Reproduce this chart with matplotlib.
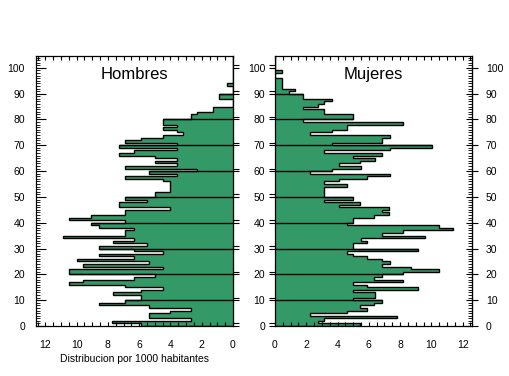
import matplotlib
matplotlib.use('Agg')
import matplotlib.pyplot as plt
import numpy as np

plt.rcParams['font.family'] = ['Liberation Sans', 'DejaVu Sans']

# tasa por 1000 habitantes, edad 0..104
hombres = [5.9, 7.75, 2.7, 5.4, 5.4, 4.0, 2.7, 5.4, 8.6, 6.9,
           5.9, 5.9, 7.7, 5.9, 4.5, 6.9, 10.5, 9.6, 6.3, 5.0,
           10.5, 10.5, 4.5, 9.6, 5.4, 10.0, 6.3, 8.6, 4.5, 6.3,
           8.6, 5.5, 7.7, 6.3, 10.9, 6.9, 6.9, 6.3, 8.6, 9.1,
           6.9, 10.5, 9.1, 6.9, 6.9, 4.0, 7.3, 7.3, 5.5, 6.9,
           5.0, 5.0, 4.0, 4.0, 4.0, 4.0, 4.5, 6.9, 3.6, 5.4,
           2.3, 6.9, 3.6, 5.0, 3.6, 5.0, 7.3, 6.3, 3.6, 7.3,
           3.6, 6.9, 5.9, 4.5, 3.2, 3.6, 4.5, 3.6, 4.5, 4.5,
           2.7, 2.7, 2.3, 1.3, 1.3, 0, 0, 0, 0.9, 0.9,
           0, 0, 0, 0.4, 0, 0, 0, 0, 0, 0,
           0, 0, 0, 0, 0]
mujeres = [5.45, 2.73, 3.15, 7.8, 2.26, 4.6, 5.9, 5.45, 6.34, 6.87,
           5.02, 6.38, 6.38, 5.02, 9.16, 5.9, 5.02, 8.2, 6.34, 6.87,
           8.2, 10.5, 8.67, 6.87, 7.33, 6.87, 5.9, 5.02, 4.58, 9.16,
           5.02, 5.02, 5.9, 5.5, 9.6, 6.87, 8.2, 11.4, 10.5, 4.58,
           5.02, 5.02, 6.34, 7.3, 6.87, 7.3, 4.07, 5.45, 3.15, 5.02,
           3.15, 3.15, 3.15, 3.15, 4.58, 3.15, 4.07, 5.9, 7.33, 2.26,
           3.62, 5.5, 4.07, 5.45, 6.38, 5.02, 6.87, 3.16, 7.33, 10.05,
           3.62, 6.87, 6.87, 7.33, 2.26, 3.62, 4.6, 4.6, 8.2, 1.77,
           5.02, 5.02, 3.16, 3.16, 1.77, 2.72, 3.16, 3.64, 1.77, 1.77,
           0.88, 1.3, 0.46, 0.46, 0.46, 0.46, 0, 0, 0.46, 0,
           0, 0, 0, 0, 0]
decadas = list(range(0, 101, 10))
xticks = list(range(0, 13, 2))

verde = '#339966'
edades = np.arange(len(hombres) + 1)

fig = plt.figure(figsize=(5.09, 3.76), dpi=100)
axL = fig.add_axes([36/509, 50/376, 197/509, 270/376])
axR = fig.add_axes([275/509, 50/376, 197/509, 270/376])

for ax, vals in ((axL, hombres), (axR, mujeres)):
    ax.stairs(vals, edades, orientation='horizontal', baseline=0, fill=True,
              color=verde, lw=0)
    ax.stairs(vals, edades, orientation='horizontal', baseline=0, fill=False,
              color='k', lw=1.0)
    # lineas de decada dentro de las barras
    for d in decadas[1:-1]:
        ax.hlines(d, 0, max(vals[d-1], vals[d]), color='k', lw=1.0)
    ax.set_ylim(0, 104.6)
    ax.set_xticks(xticks)
    ax.set_xticks(np.arange(0, 12.6, 0.5), minor=True)
    ax.tick_params(axis='x', which='both', direction='in', top=True, bottom=True,
                   length=3, width=0.8, labelsize=7.5, pad=10)
    for s in ax.spines.values():
        s.set_linewidth(0.9)

axL.set_xlim(12.6, 0)
axR.set_xlim(0, 12.6)

# Hombres: etiquetas a la izquierda
axL.set_yticks(decadas)
axL.set_yticks(range(0, 105), minor=True)
axL.tick_params(axis='y', which='major', direction='in', length=7, width=0.8,
                labelsize=7.5, pad=8)
axL.tick_params(axis='y', which='minor', direction='in', length=3, width=0.6)
secL = axL.secondary_yaxis('right')
secL.set_yticks(decadas)
secL.set_yticks([d + 1 for d in decadas], minor=True)
secL.tick_params(which='both', direction='out', length=4, width=0.8, labelright=False)

# Mujeres: etiquetas al centro y a la derecha
axR.set_yticks(decadas)
axR.set_yticks([d + 1 for d in decadas], minor=True)
axR.tick_params(axis='y', which='both', direction='out', length=4, width=0.8,
                labelsize=7.5, pad=3)
secR = axR.secondary_yaxis('right')
secR.set_yticks(decadas)
secR.set_yticks(range(0, 105), minor=True)
secR.tick_params(which='major', direction='inout', length=8, width=0.8, labelsize=7.5, pad=6)
secR.tick_params(which='minor', direction='in', length=3, width=0.6)

axL.text(0.5, 0.93, 'Hombres', transform=axL.transAxes, ha='center', va='center', fontsize=12)
axR.text(0.5, 0.93, 'Mujeres', transform=axR.transAxes, ha='center', va='center', fontsize=12)
axL.set_xlabel('Distribucion por 1000 habitantes', fontsize=7.5, labelpad=3)

fig.savefig('out.png', dpi=100)
